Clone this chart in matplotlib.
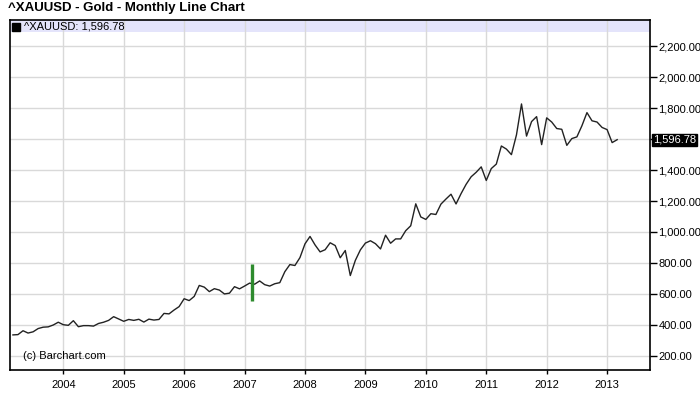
import matplotlib
matplotlib.use("Agg")
import matplotlib.pyplot as plt
import numpy as np

plt.rcParams['font.family'] = ['Liberation Sans', 'DejaVu Sans']

# Monthly closes, March 2003 .. March 2013
start_year, start_month = 2003, 3
closes = [
    334, 336, 361, 346, 354, 375, 384, 386, 398, 416,               # 2003 Mar-Dec
    400, 396, 426, 387, 394, 394, 391, 408, 416, 428, 452, 437,     # 2004
    422, 434, 428, 435, 417, 436, 430, 434, 473, 470, 495, 517,     # 2005
    568, 556, 583, 654, 643, 614, 633, 624, 599, 604, 646, 632,     # 2006
    650, 669, 662, 683, 659, 650, 665, 672, 743, 789, 783, 834,     # 2007
    923, 971, 916, 871, 885, 930, 912, 833, 880, 718, 816, 884,     # 2008
    928, 943, 924, 890, 979, 927, 955, 955, 1008, 1040, 1182, 1097, # 2009
    1081, 1118, 1113, 1180, 1213, 1244, 1181, 1248, 1308, 1357, 1386, 1421,  # 2010
    1333, 1410, 1439, 1556, 1536, 1500, 1628, 1828, 1620, 1714, 1746, 1565,  # 2011
    1738, 1711, 1669, 1664, 1560, 1604, 1615, 1687, 1772, 1719, 1711, 1676,  # 2012
    1662, 1578, 1596.78,                                             # 2013
]
last_value = 1596.78
year_ticks = [2004, 2005, 2006, 2007, 2008, 2009, 2010, 2011, 2012, 2013]
y_ticks = [200, 400, 600, 800, 1000, 1200, 1400, 1600, 1800, 2000, 2200]
marker_date = 2007 + 1.5 / 12
marker_low, marker_high = 551, 790

x = np.array([start_year + (start_month - 1 + i) / 12 for i in range(len(closes))])
y = np.array(closes)

W, H = 700, 411
fig = plt.figure(figsize=(W / 100, H / 100), dpi=100)
L, R, T, B = 10, 650, 20, 370
ax = fig.add_axes([L / W, (H - B) / H, (R - L) / W, (B - T) / H])

ax.set_xlim(2003.118, 2013.71)
ax.set_ylim(107, 2371)

ax.set_xticks(year_ticks)
ax.set_xticklabels([str(t) for t in year_ticks])
ax.set_yticks(y_ticks)
ax.set_yticklabels(["" if abs(v - last_value) < 60 else f"{v:,.2f}" for v in y_ticks])
ax.yaxis.tick_right()
ax.tick_params(axis='y', direction='out', length=5, width=1, color='black',
               labelsize=8, pad=1)
ax.tick_params(axis='x', direction='out', length=3, width=1, color='black',
               labelsize=8, pad=4)
ax.grid(True, color='#d9d9d9', linewidth=1)
ax.set_axisbelow(True)
for s in ax.spines.values():
    s.set_color('black')
    s.set_linewidth(1.2)

# legend band
ax.axhspan(2371 - 12.5 / 0.1546, 2371, color='#e4e4fb', zorder=0.5, lw=0)

ax.plot(x, y, color='#222222', linewidth=1.0, zorder=3)
ax.vlines(marker_date, marker_low, marker_high, color='#2e8b2e', linewidth=2.4, zorder=4)

ax.plot([0.009], [0.981], marker='s', markersize=5.5, color='black',
        transform=ax.transAxes, clip_on=False, zorder=5)
ax.text(0.0225, 0.981, "^XAUUSD: " + f"{last_value:,.2f}", transform=ax.transAxes,
        fontsize=8, va='center', ha='left', color='black')
ax.text(0.02, 0.04, "(c) Barchart.com", transform=ax.transAxes, fontsize=8,
        va='center', ha='left', color='black')

# last value label
ax.annotate(f"{last_value:,.2f}", xy=(1.0, last_value), xycoords=('axes fraction', 'data'),
            xytext=(2, 0), textcoords='offset points', fontsize=8, color='white',
            va='center', ha='left',
            bbox=dict(boxstyle='square,pad=0.1', fc='black', ec='black'))

fig.text(8 / W, 1 - 8 / H, "^XAUUSD - Gold - Monthly Line Chart", fontsize=9.5,
         fontweight='bold', va='center', ha='left')

fig.savefig("out.png", dpi=100)
